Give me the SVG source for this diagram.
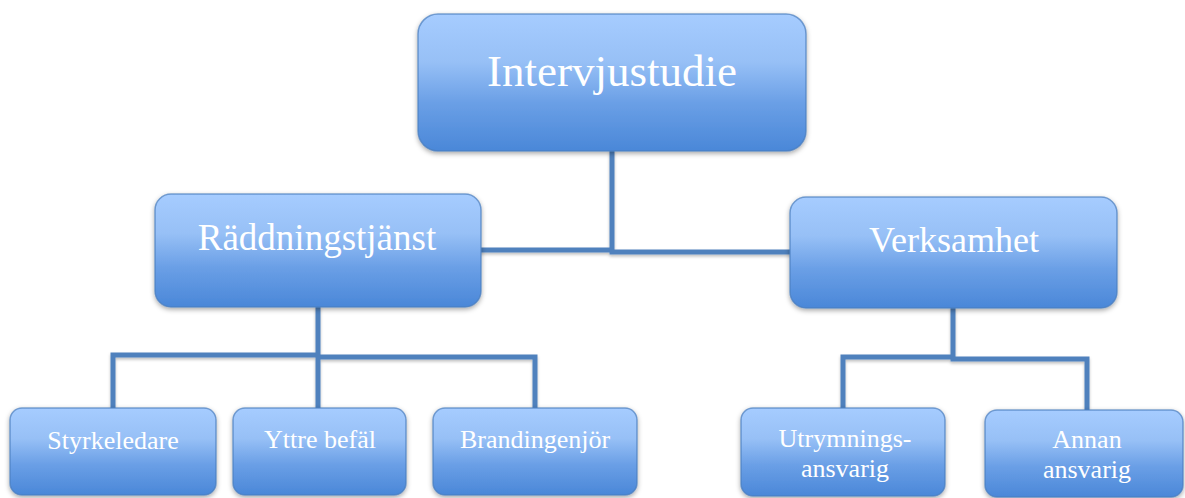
<svg xmlns="http://www.w3.org/2000/svg" width="1185" height="498" viewBox="0 0 1185 498">
<defs>
<linearGradient id="g" x1="0" y1="0" x2="0" y2="1">
<stop offset="0" stop-color="#a6ccff"/>
<stop offset="0.35" stop-color="#97c0f6"/>
<stop offset="0.65" stop-color="#6a9fe6"/>
<stop offset="1" stop-color="#4a87d8"/>
</linearGradient>
<filter id="sh" x="-10%" y="-10%" width="120%" height="130%">
<feDropShadow dx="0" dy="2" stdDeviation="2.5" flood-color="#000" flood-opacity="0.35"/>
</filter>
<filter id="lsh" x="-10%" y="-10%" width="120%" height="130%">
<feDropShadow dx="0" dy="2" stdDeviation="1.5" flood-color="#000" flood-opacity="0.25"/>
</filter>
<style>
.box{fill:url(#g);stroke:#4a7dbd;stroke-width:1.5;stroke-opacity:0.7;filter:url(#sh);}
.t{fill:#fff;font-family:"Liberation Serif","Times New Roman",serif;text-anchor:middle;}
.c{fill:none;stroke:#4f81bd;stroke-width:5;stroke-linecap:square;}
</style>
</defs>
<g id="connectors" filter="url(#lsh)">
<path class="c" d="M612,152 V251 M481,250 H612 M612,252 H790"/>
<path class="c" d="M318,308 V356 M113,355 H318 M318,357 H535 M113,355 V406 M318,357 V406 M535,357 V406"/>
<path class="c" d="M953,309 V357 M843,357 H953 M953,359 H1087 M843,357 V406 M1087,359 V408"/>
</g>
<g id="n-intervjustudie">
<rect class="box" x="418" y="14" width="388" height="137" rx="20"/>
<text class="t" x="612" y="86" font-size="45">Intervjustudie</text>
</g>
<g id="n-raddningstjanst">
<rect class="box" x="155" y="194" width="326" height="113" rx="16"/>
<text class="t" x="317" y="250" font-size="37">Räddningstjänst</text>
</g>
<g id="n-verksamhet">
<rect class="box" x="790" y="197" width="327" height="111" rx="16"/>
<text class="t" x="954" y="252" font-size="36">Verksamhet</text>
</g>
<g id="n-styrkeledare">
<rect class="box" x="10" y="408" width="206" height="87" rx="12"/>
<text class="t" x="113" y="449" font-size="26">Styrkeledare</text>
</g>
<g id="n-yttre">
<rect class="box" x="233" y="408" width="173" height="87" rx="12"/>
<text class="t" x="320" y="448" font-size="26">Yttre befäl</text>
</g>
<g id="n-brand">
<rect class="box" x="433" y="408" width="204" height="87" rx="12"/>
<text class="t" x="535" y="448" font-size="26">Brandingenjör</text>
</g>
<g id="n-utrymning">
<rect class="box" x="741" y="408" width="204" height="88" rx="12"/>
<text class="t" x="845" y="447" font-size="26">Utrymnings-</text>
<text class="t" x="845" y="477" font-size="26">ansvarig</text>
</g>
<g id="n-annan">
<rect class="box" x="985" y="410" width="198" height="87" rx="12"/>
<text class="t" x="1087" y="448" font-size="26">Annan</text>
<text class="t" x="1087" y="478" font-size="26">ansvarig</text>
</g>
</svg>
